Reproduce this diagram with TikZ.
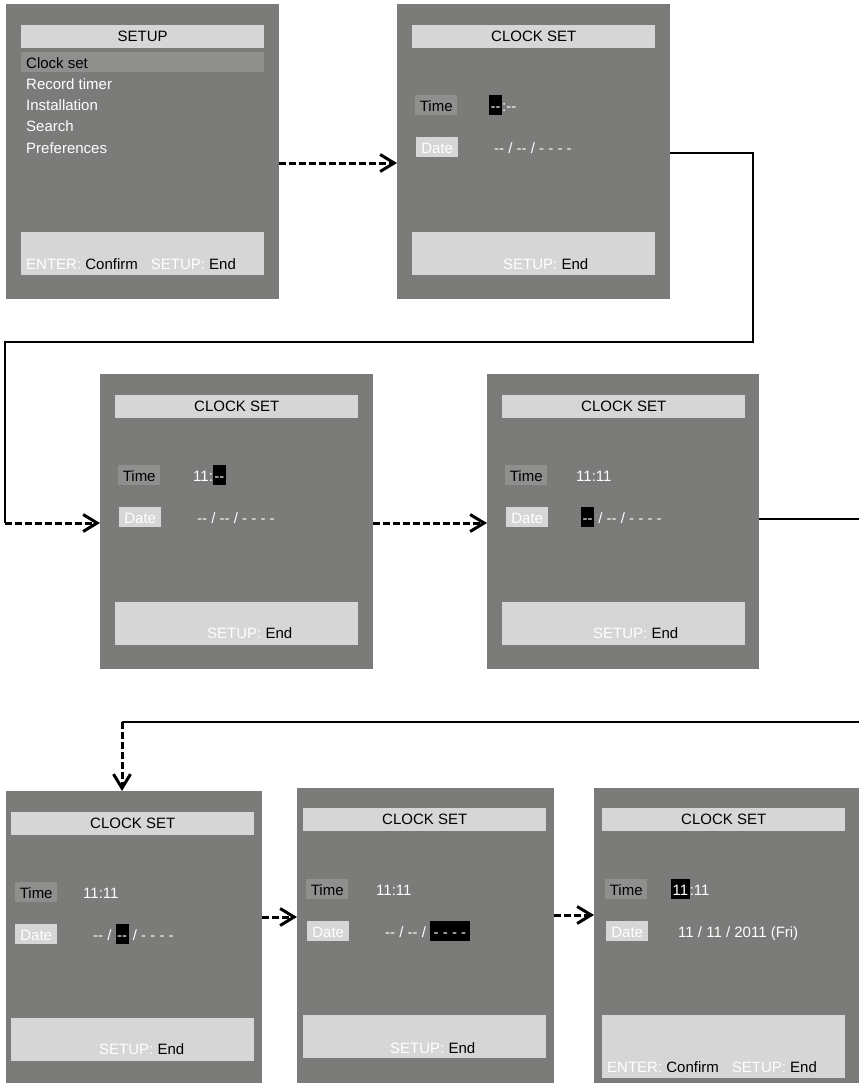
\documentclass[tikz,border=0pt]{standalone}
\usepackage{fontspec}
\setmainfont{Liberation Sans}[Ligatures=TeXOff]
\usepackage{tikz}
\usetikzlibrary{arrows.meta,calc,positioning}
\definecolor{grisPantalla}{RGB}{123,123,121}
\definecolor{grisClaro}{RGB}{214,214,214}
\definecolor{grisMedio}{RGB}{143,143,141}
\tikzstyle{screen}  =[rectangle, fill=grisPantalla, anchor=north west,
                      inner sep=0pt, minimum width=273pt, minimum height=295pt]
\tikzstyle{titlebar}=[rectangle, fill=grisClaro, anchor=north west,
                      inner sep=0pt, minimum width=243pt, minimum height=23pt]
\tikzstyle{selbar}  =[rectangle, fill=grisMedio, anchor=north west,
                      inner sep=0pt, minimum width=243pt, minimum height=20pt]
\tikzstyle{footbar} =[rectangle, fill=grisClaro, anchor=north west,
                      inner sep=0pt, minimum width=243pt, minimum height=43pt]
\tikzstyle{timetag} =[rectangle, fill=grisMedio, anchor=base west, inner sep=0pt,
                      minimum width=42pt, text height=16pt, text depth=4pt]
\tikzstyle{datetag} =[timetag, fill=grisClaro, text=white]
\tikzstyle{valtext} =[anchor=base west, inner sep=0pt, text=white]
\tikzstyle{keytext} =[anchor=base west, inner sep=0pt]
\tikzstyle{wire}    =[line width=1.2pt]
\tikzstyle{flow}    =[line width=3pt, dash pattern=on 7pt off 3pt,
                      -{Straight Barb[length=14pt,width=17pt]}]
\newcommand{\marca}[1]{{\setlength{\fboxsep}{0pt}%
  \colorbox{black}{\rule[-4pt]{0pt}{20pt}\hspace{1.5pt}#1\hspace{1.5pt}}}}
\newcommand{\tecla}[2]{\textcolor{white}{#1:} #2}

\begin{document}
\begin{tikzpicture}[x=1pt,y=-1pt,font=\fontsize{15pt}{18pt}\selectfont]
    \useasboundingbox (0,0) rectangle (859,1084);

    %pantalla 1, SETUP
    \begin{scope}[shift={(6,4)}]
        \node (s1) [screen] at (0,0) {};
        \node (s1title) [titlebar] at (15,21) {SETUP};
        \node (s1sel) [selbar] at (15,48) {};
        \node (s1m0) [valtext, text=black] at (20,64) {Clock set};
        \foreach \t [count=\i] in {Record timer,Installation,Search,Preferences}
            \node (s1m\i) [valtext] at (20,{64+21.25*\i}) {\t};
        \node (s1foot) [footbar] at (15,228) {};
        \node (s1keys) [keytext] at (20,265) {\tecla{ENTER}{Confirm}\hspace{13pt}\tecla{SETUP}{End}};
    \end{scope}

    %pantalla 2, --:--
    \begin{scope}[shift={(397,4)}]
        \node (s2) [screen] at (0,0) {};
        \node (s2title) [titlebar] at (15,21) {CLOCK SET};
        \node (s2time) [timetag] at (18,107) {Time};
        \node (s2date) [datetag] at (19,149) {Date};
        \node (s2tval) [valtext] at (92,107) {\marca{--}:--};
        \node (s2dval) [valtext] at (97,149) {-- / -- / - - - -};
        \node (s2foot) [footbar] at (15,228) {};
        \node (s2keys) [keytext] at (106,265) {\tecla{SETUP}{End}};
    \end{scope}

    %pantalla 3, 11:--
    \begin{scope}[shift={(100,374)}]
        \node (s3) [screen] at (0,0) {};
        \node (s3title) [titlebar] at (15,21) {CLOCK SET};
        \node (s3time) [timetag] at (18,107) {Time};
        \node (s3date) [datetag] at (19,149) {Date};
        \node (s3tval) [valtext] at (93,107) {11:\marca{--}};
        \node (s3dval) [valtext] at (97,149) {-- / -- / - - - -};
        \node (s3foot) [footbar] at (15,228) {};
        \node (s3keys) [keytext] at (107,264) {\tecla{SETUP}{End}};
    \end{scope}

    %pantalla 4, mes
    \begin{scope}[shift={(487,374)}]
        \node (s4) [screen, minimum width=272pt] at (0,0) {};
        \node (s4title) [titlebar] at (15,21) {CLOCK SET};
        \node (s4time) [timetag] at (18,107) {Time};
        \node (s4date) [datetag] at (19,149) {Date};
        \node (s4tval) [valtext] at (89,107) {11:11};
        \node (s4dval) [valtext] at (94,149) {\marca{--} / -- / - - - -};
        \node (s4foot) [footbar] at (15,228) {};
        \node (s4keys) [keytext] at (106,264) {\tecla{SETUP}{End}};
    \end{scope}

    %pantalla 5, dia
    \begin{scope}[shift={(6,791)}]
        \node (s5) [screen, minimum width=256pt, minimum height=292pt] at (0,0) {};
        \node (s5title) [titlebar] at (5,21) {CLOCK SET};
        \node (s5time) [timetag] at (9,107) {Time};
        \node (s5date) [datetag] at (9,149) {Date};
        \node (s5tval) [valtext] at (77,107) {11:11};
        \node (s5dval) [valtext] at (87,149) {-- / \marca{--} / - - - -};
        \node (s5foot) [footbar] at (5,227) {};
        \node (s5keys) [keytext] at (93,263) {\tecla{SETUP}{End}};
    \end{scope}

    %pantalla 6, anio
    \begin{scope}[shift={(297,788)}]
        \node (s6) [screen, minimum width=257pt] at (0,0) {};
        \node (s6title) [titlebar] at (6,20) {CLOCK SET};
        \node (s6time) [timetag] at (9,107) {Time};
        \node (s6date) [datetag] at (10,149) {Date};
        \node (s6tval) [valtext] at (79,107) {11:11};
        \node (s6dval) [valtext] at (88,149) {-- / -- / \marca{\hspace{2pt}- - - -\hspace{2pt}}};
        \node (s6foot) [footbar] at (6,227) {};
        \node (s6keys) [keytext] at (93,265) {\tecla{SETUP}{End}};
    \end{scope}

    %pantalla 7, listo
    \begin{scope}[shift={(594,788)}]
        \node (s7) [screen, minimum width=265pt] at (0,0) {};
        \node (s7title) [titlebar] at (8,20) {CLOCK SET};
        \node (s7time) [timetag] at (11,107) {Time};
        \node (s7date) [datetag] at (12,149) {Date};
        \node (s7tval) [valtext] at (77,107) {\marca{11}:11};
        \node (s7dval) [valtext] at (84,149) {11 / 11 / 2011 (Fri)};
        \node (s7foot) [footbar, minimum height=63pt] at (8,227) {};
        \node (s7keys) [keytext] at (13,284) {\tecla{ENTER}{Confirm}\hspace{13pt}\tecla{SETUP}{End}};
    \end{scope}

    %conectores
    \coordinate (k1) at (753,342);
    \coordinate (k2) at (5,523);
    \coordinate (k3) at (859,519);
    \coordinate (k4) at (859,722);
    \coordinate (k5) at (122,722);

    \draw[flow] ([yshift=-159pt]s1.north east) -- ([yshift=-159pt]s2.north west);
    \draw[wire] ([yshift=-149pt]s2.north east) -| (k1) -| (k2);
    \draw[flow] (k2) -- (k2 -| s3.west);
    \draw[flow] ([yshift=-149pt]s3.north east) -- ([yshift=-149pt]s4.north west);
    \draw[wire] ([yshift=-145pt]s4.north east) -- (k3);
    \draw[wire] (k4) -- (k5);
    \draw[flow] (k5) -- (k5 |- s5.north);
    \draw[flow] ([yshift=-126pt]s5.north east) -- ([yshift=-129pt]s6.north west);
    \draw[flow] ([yshift=-127pt]s6.north east) -- ([yshift=-127pt]s7.north west);

\end{tikzpicture}
\end{document}
